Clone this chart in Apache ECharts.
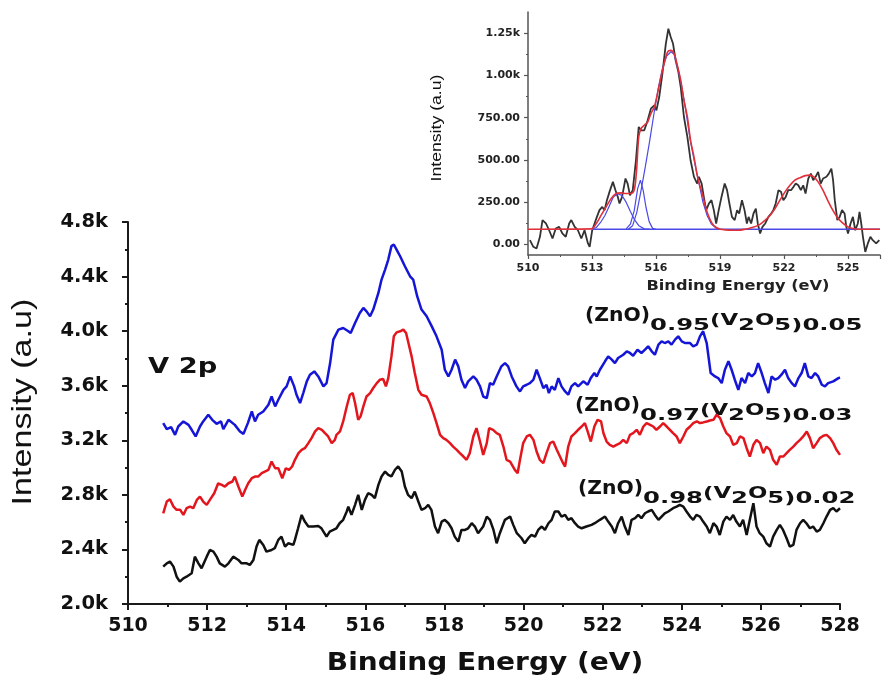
<!DOCTYPE html>
<html><head><meta charset="utf-8">
<script src="https://cdn.jsdelivr.net/npm/echarts@6/dist/echarts.min.js"></script>
<style>html,body{margin:0;padding:0;background:#fff}#c{width:883px;height:679px}</style>
</head><body><div id="c"></div>
<script>
// ---------- main panel data ----------
const blueE = [510.89,510.98,511.09,511.19,511.27,511.40,511.53,511.61,511.71,511.82,511.90,512.03,512.13,512.24,512.35,512.41,512.54,512.70,512.83,512.92,513.03,513.13,513.21,513.29,513.42,513.55,513.63,513.72,513.80,513.93,514.01,514.10,514.20,514.26,514.35,514.43,514.52,514.60,514.71,514.81,514.94,515.02,515.11,515.19,515.32,515.44,515.57,515.63,515.74,515.86,515.95,516.03,516.12,516.20,516.33,516.41,516.50,516.58,516.66,516.72,516.79,516.88,517.00,517.13,517.21,517.31,517.42,517.55,517.68,517.80,517.93,518.01,518.10,518.18,518.27,518.35,518.43,518.52,518.60,518.73,518.81,518.90,518.98,519.07,519.15,519.23,519.32,519.44,519.53,519.61,519.70,519.82,519.91,519.99,520.08,520.16,520.25,520.33,520.41,520.50,520.58,520.64,520.71,520.79,520.88,520.96,521.05,521.13,521.21,521.30,521.38,521.51,521.62,521.70,521.79,521.85,521.93,522.06,522.14,522.23,522.31,522.39,522.52,522.61,522.69,522.77,522.88,522.98,523.07,523.15,523.24,523.32,523.41,523.49,523.57,523.66,523.74,523.83,523.91,524.00,524.08,524.21,524.29,524.38,524.46,524.54,524.63,524.73,524.84,524.92,525.01,525.09,525.18,525.26,525.34,525.43,525.51,525.60,525.68,525.77,525.85,525.93,526.02,526.10,526.19,526.27,526.36,526.44,526.52,526.61,526.69,526.78,526.86,526.95,527.03,527.11,527.20,527.28,527.37,527.45,527.54,527.62,527.70,527.83,527.96,528.00];
const blueI = [3326,3282,3296,3240,3301,3338,3313,3277,3228,3301,3338,3387,3350,3321,3338,3282,3350,3313,3265,3247,3326,3411,3338,3387,3411,3460,3521,3448,3497,3570,3595,3668,3595,3534,3473,3546,3632,3681,3705,3668,3595,3619,3766,3938,4011,4023,3999,3986,4060,4133,4170,4145,4109,4158,4280,4378,4451,4525,4623,4635,4598,4549,4476,4402,4378,4256,4158,4109,4035,3962,3864,3717,3668,3717,3791,3742,3644,3583,3632,3668,3644,3595,3521,3509,3619,3607,3668,3742,3766,3742,3668,3595,3558,3595,3607,3619,3644,3717,3656,3583,3607,3546,3595,3570,3656,3595,3558,3534,3595,3619,3595,3632,3607,3656,3693,3668,3717,3779,3815,3791,3766,3803,3827,3852,3840,3820,3864,3840,3864,3889,3852,3827,3901,3925,3913,3925,3901,3938,3962,3925,3913,3913,3889,3901,3962,3999,3913,3693,3668,3656,3619,3717,3779,3717,3644,3570,3656,3619,3693,3668,3693,3766,3693,3619,3546,3668,3644,3656,3681,3717,3656,3619,3595,3656,3693,3766,3668,3656,3693,3668,3607,3595,3619,3632,3656,3660];

const redE = [510.89,510.98,511.06,511.15,511.23,511.32,511.40,511.48,511.57,511.65,511.74,511.82,511.90,511.99,512.07,512.18,512.28,512.37,512.45,512.54,512.64,512.70,512.79,512.89,512.96,513.04,513.13,513.21,513.29,513.38,513.46,513.55,513.63,513.72,513.80,513.90,513.99,514.07,514.15,514.22,514.31,514.39,514.47,514.56,514.64,514.73,514.81,514.90,514.98,515.06,515.15,515.23,515.27,515.36,515.44,515.53,515.61,515.68,515.74,515.82,515.88,515.95,516.03,516.12,516.20,516.29,516.37,516.45,516.52,516.58,516.66,516.72,516.79,516.88,516.96,517.03,517.09,517.17,517.25,517.34,517.42,517.55,517.63,517.72,517.80,517.89,517.97,518.05,518.14,518.22,518.31,518.39,518.48,518.56,518.64,518.73,518.81,518.90,518.98,519.07,519.13,519.23,519.32,519.40,519.49,519.57,519.66,519.70,519.78,519.85,519.91,519.99,520.08,520.16,520.25,520.33,520.41,520.50,520.58,520.67,520.75,520.84,520.92,521.00,521.05,521.13,521.21,521.30,521.38,521.47,521.55,521.62,521.70,521.79,521.87,521.96,522.02,522.10,522.18,522.27,522.35,522.44,522.52,522.61,522.69,522.77,522.86,522.94,523.03,523.11,523.20,523.28,523.36,523.45,523.53,523.62,523.70,523.78,523.87,523.95,524.04,524.12,524.21,524.29,524.38,524.46,524.54,524.63,524.71,524.80,524.88,524.97,525.05,525.13,525.22,525.30,525.39,525.47,525.56,525.64,525.72,525.81,525.89,525.98,526.06,526.14,526.23,526.31,526.40,526.48,526.57,526.65,526.73,526.82,526.90,526.99,527.07,527.16,527.24,527.32,527.41,527.49,527.58,527.66,527.75,527.83,527.91,528.00];
const redI = [2665,2751,2768,2714,2690,2690,2653,2702,2714,2702,2763,2787,2751,2726,2763,2812,2885,2873,2861,2885,2898,2934,2861,2787,2836,2885,2922,2934,2934,2959,2971,2983,3044,2995,2995,2922,2995,2983,3008,3057,3106,3130,3142,3179,3216,3265,3289,3277,3252,3228,3179,3203,3240,3265,3338,3448,3534,3546,3473,3350,3375,3448,3521,3546,3583,3619,3644,3649,3595,3656,3815,3962,3991,3999,4011,3986,3913,3815,3693,3570,3534,3521,3473,3399,3326,3240,3216,3203,3179,3154,3130,3106,3081,3057,3106,3228,3289,3191,3093,3179,3289,3277,3252,3240,3154,3057,3044,3032,2983,2959,3057,3179,3228,3240,3203,3118,3057,3032,3106,3179,3191,3130,3081,3032,3008,3154,3228,3252,3277,3301,3326,3265,3191,3301,3350,3338,3252,3191,3167,3154,3167,3179,3203,3179,3240,3252,3277,3240,3301,3326,3313,3301,3277,3301,3326,3301,3277,3252,3228,3179,3228,3277,3301,3326,3338,3326,3331,3338,3345,3350,3387,3362,3301,3252,3228,3167,3179,3228,3216,3142,3081,3167,3203,3179,3106,3154,3130,3057,3020,3081,3081,3106,3130,3154,3179,3203,3228,3265,3216,3142,3179,3216,3233,3240,3216,3179,3130,3093];

const blackE = [510.89,510.98,511.06,511.15,511.23,511.31,511.40,511.48,511.61,511.69,511.78,511.86,511.99,512.07,512.16,512.24,512.32,512.45,512.54,512.66,512.79,512.87,513.00,513.08,513.17,513.25,513.32,513.42,513.50,513.63,513.71,513.80,513.88,513.97,514.05,514.18,514.22,514.30,514.39,514.47,514.56,514.68,514.81,514.89,515.02,515.10,515.19,515.27,515.35,515.44,515.53,515.57,515.65,515.74,515.82,515.91,515.99,516.07,516.16,516.24,516.33,516.41,516.50,516.58,516.66,516.75,516.83,516.92,517.00,517.08,517.17,517.25,517.34,517.42,517.51,517.59,517.67,517.76,517.84,517.93,518.01,518.10,518.18,518.26,518.35,518.43,518.52,518.60,518.69,518.77,518.85,518.90,518.98,519.07,519.15,519.24,519.32,519.40,519.53,519.66,519.74,519.83,519.95,520.03,520.12,520.20,520.29,520.37,520.46,520.54,520.63,520.71,520.79,520.88,520.96,521.05,521.13,521.21,521.30,521.38,521.47,521.59,521.72,521.80,521.93,522.06,522.14,522.23,522.31,522.39,522.48,522.56,522.65,522.73,522.82,522.90,522.98,523.07,523.15,523.24,523.32,523.41,523.49,523.57,523.66,523.78,523.87,523.95,524.04,524.12,524.21,524.29,524.37,524.46,524.54,524.63,524.71,524.80,524.88,524.96,525.05,525.13,525.22,525.30,525.38,525.47,525.55,525.64,525.72,525.81,525.89,525.97,526.06,526.14,526.23,526.31,526.40,526.48,526.56,526.65,526.73,526.82,526.90,526.99,527.07,527.15,527.24,527.32,527.41,527.49,527.58,527.66,527.75,527.83,527.91,528.00];
const blackI = [2274,2298,2311,2274,2200,2164,2188,2200,2225,2347,2298,2262,2347,2396,2384,2347,2298,2274,2298,2347,2323,2298,2298,2286,2323,2421,2470,2433,2384,2396,2409,2470,2494,2421,2445,2433,2470,2555,2653,2604,2568,2568,2572,2555,2494,2531,2543,2555,2592,2617,2678,2714,2653,2727,2800,2690,2763,2812,2800,2776,2873,2935,2971,2947,2935,2984,3008,2971,2861,2800,2776,2824,2751,2690,2702,2727,2690,2568,2519,2604,2617,2592,2555,2494,2457,2543,2543,2555,2592,2568,2519,2506,2568,2641,2617,2543,2445,2519,2617,2641,2580,2519,2482,2445,2482,2506,2494,2543,2568,2543,2592,2617,2678,2678,2641,2653,2617,2629,2592,2568,2555,2568,2580,2592,2617,2641,2604,2568,2519,2592,2641,2568,2506,2617,2629,2653,2629,2665,2678,2690,2653,2617,2641,2665,2678,2702,2714,2727,2714,2678,2641,2617,2653,2641,2604,2568,2519,2592,2568,2506,2604,2641,2617,2653,2604,2568,2617,2506,2617,2739,2568,2519,2494,2445,2421,2494,2543,2580,2543,2482,2421,2433,2543,2592,2617,2592,2555,2568,2531,2543,2592,2641,2690,2702,2678,2702];

const mainXTicks = [510, 528, 2];
const mainYTicks = [2000, 4800, 400];

// ---------- inset data ----------
const insetE = [510.09,510.25,510.40,510.56,510.68,510.84,510.99,511.15,511.30,511.46,511.61,511.77,511.93,512.03,512.19,512.34,512.50,512.65,512.81,512.89,513.01,513.12,513.23,513.35,513.48,513.59,513.70,513.82,513.98,514.10,514.21,514.29,514.41,514.57,514.67,514.78,514.91,515.06,515.19,515.30,515.45,515.61,515.76,515.92,516.02,516.15,516.30,516.46,516.58,516.69,516.80,516.92,517.05,517.16,517.31,517.47,517.62,517.78,517.93,518.01,518.14,518.24,518.35,518.48,518.60,518.71,518.82,518.94,519.07,519.22,519.33,519.44,519.56,519.69,519.80,519.90,520.03,520.15,520.26,520.34,520.46,520.57,520.68,520.77,520.88,520.99,521.12,521.27,521.40,521.50,521.61,521.74,521.86,521.97,522.08,522.20,522.33,522.44,522.55,522.67,522.79,522.90,523.01,523.14,523.26,523.37,523.48,523.60,523.72,523.83,523.99,524.10,524.22,524.30,524.38,524.50,524.61,524.72,524.84,524.92,525.00,525.12,525.23,525.34,525.46,525.54,525.62,525.70,525.81,525.93,526.05,526.16,526.32,526.47];
const insetI = [25,-14,-24,45,144,124,84,35,94,104,65,45,124,144,104,84,35,84,6,-14,84,124,163,203,222,203,262,311,370,321,281,242,281,390,360,291,321,498,695,675,675,734,803,823,793,872,1010,1187,1276,1227,1187,1089,1020,931,754,636,498,400,360,400,360,281,203,242,262,203,124,203,281,360,321,242,163,144,203,183,262,203,124,163,124,183,212,124,65,104,124,163,183,203,242,321,311,262,281,321,321,340,360,350,321,350,301,390,419,380,400,429,360,390,400,419,449,380,262,144,163,203,183,104,65,124,163,84,124,193,124,45,-44,6,45,25,6,25];

const fitE = [510.0,512.97,513.20,513.43,513.66,513.90,514.13,514.36,514.60,514.83,514.98,515.09,515.19,515.30,515.45,515.61,515.76,515.92,516.07,516.23,516.38,516.54,516.69,516.85,517.00,517.16,517.31,517.47,517.62,517.78,517.93,518.05,518.17,518.32,518.48,518.63,518.82,519.02,519.25,519.56,519.87,520.18,520.50,520.81,521.12,521.35,521.58,521.81,522.05,522.28,522.51,522.75,523.00,523.20,523.40,523.60,523.83,524.07,524.30,524.53,524.77,525.00,525.23,525.46,526.50];
const fitI = [90,92,124,173,222,272,301,305,301,301,321,439,636,685,705,724,774,813,892,990,1069,1138,1148,1128,1059,971,852,754,616,518,410,350,300,222,163,124,100,90,86,84,84,90,100,114,144,173,212,262,311,350,380,395,407,410,400,370,320,255,200,155,124,104,94,90,90];

const peak1E = [513.0,513.2,513.4,513.6,513.8,514.0,514.2,514.4,514.6,514.8,515.0,515.2,515.45,515.7];
const peak1I = [90,100,130,170,225,280,300,290,250,195,145,110,92,90];
const peak2E = [514.6,514.8,514.98,515.14,515.27,515.40,515.53,515.68,515.84,516.0];
const peak2I = [92,120,200,330,380,320,220,135,95,90];
const peak3E = [514.7,514.9,515.1,515.3,515.5,515.7,515.9,516.1,516.3,516.5,516.7,516.85,517.0,517.2,517.4,517.6,517.8,518.0,518.2,518.4,518.6,518.8,519.0];
const peak3I = [90,110,190,320,460,610,770,920,1040,1115,1140,1125,1055,940,790,620,490,370,250,170,120,98,90];
const baseE = [513.0, 526.5];
const baseI = [90, 90];

const insetXTicks = [510, 526.5, 3];
const insetYLabels = [0, 250, 500, 750, 1000, 1250];
const insetYMinor = [125, 375, 625, 875, 1125];
const insetYRange = [-62.5, 1375];

// ---------- texts ----------
const labels = [
  {zno: '0.95', v: '0.05'},
  {zno: '0.97', v: '0.03'},
  {zno: '0.98', v: '0.02'}
];

const zip = (a, b) => a.map((x, i) => [x, b[i]]);
const F = 'DejaVu Sans';
const AX = '#1a1a1a';

const chart = echarts.init(document.getElementById('c'), null, {renderer: 'canvas'});

function subPart(l) {
  return '{s|' + l.zno + '}{u|(V}{s|2}{u|O}{s|5}{s|)' + l.v + '}';
}
const LH = 20.5;
const richStyle = {
  s: {fontSize: 16, fontWeight: 'bold', fontFamily: F, fill: '#111', verticalAlign: 'bottom', lineHeight: LH},
  u: {fontSize: 15, fontWeight: 'bold', fontFamily: F, fill: '#111', verticalAlign: 'top', lineHeight: LH}
};
// [x of "(ZnO)", x of subscript part, centre y of "(ZnO)"]
const labelPos = [[585, 650, 316], [575, 640, 406], [578, 643, 489]];

const labelGraphics = [];
labels.forEach((l, i) => {
  const p = labelPos[i];
  labelGraphics.push({type: 'text', x: p[0], y: p[2], scaleX: 1.07,
    style: {text: '(ZnO)', fontFamily: F, fontWeight: 'bold', fontSize: 19, fill: '#111',
      align: 'left', verticalAlign: 'middle'}});
  labelGraphics.push({type: 'text', x: p[1], y: p[2] - 2.5, scaleX: 1.52,
    style: {text: subPart(l), rich: richStyle, fontFamily: F, fontWeight: 'bold', fontSize: 16,
      fill: '#111', align: 'left', verticalAlign: 'top'}});
});

const option = {
  animation: false,
  backgroundColor: '#ffffff',
  grid: [
    {left: 128, top: 222, right: 43, bottom: 75},
    {left: 528, top: 12, right: 1, bottom: 424}
  ],
  xAxis: [
    {
      gridIndex: 0, type: 'value', min: mainXTicks[0], max: mainXTicks[1], interval: mainXTicks[2],
      axisLine: {show: true, onZero: false, lineStyle: {color: AX, width: 2}},
      axisTick: {show: true, length: 6, lineStyle: {color: AX, width: 2}},
      minorTick: {show: true, splitNumber: 2, length: 3, lineStyle: {color: AX, width: 2}},
      splitLine: {show: false},
      axisLabel: {fontFamily: F, fontWeight: 'bold', fontSize: 19, color: '#111', margin: 13}
    },
    {
      gridIndex: 1, type: 'value', min: insetXTicks[0], max: insetXTicks[1], interval: insetXTicks[2],
      axisLine: {show: true, onZero: false, lineStyle: {color: '#555', width: 1.5}},
      axisTick: {show: true, length: 4, lineStyle: {color: '#555', width: 1.2}},
      minorTick: {show: true, splitNumber: 2, length: 2, lineStyle: {color: '#555', width: 1}},
      splitLine: {show: false},
      axisLabel: {fontFamily: F, fontWeight: 'bold', fontSize: 11, color: '#222', margin: 8,
        formatter: v => (v % 3 === 0 ? String(v) : '')}
    }
  ],
  yAxis: [
    {
      gridIndex: 0, type: 'value', min: mainYTicks[0], max: mainYTicks[1], interval: mainYTicks[2],
      axisLine: {show: true, onZero: false, lineStyle: {color: AX, width: 2}},
      axisTick: {show: true, length: 6, lineStyle: {color: AX, width: 2}},
      minorTick: {show: true, splitNumber: 2, length: 3, lineStyle: {color: AX, width: 2}},
      splitLine: {show: false},
      axisLabel: {fontFamily: F, fontWeight: 'bold', fontSize: 19.5, color: '#111', margin: 20,
        formatter: v => (v / 1000).toFixed(1) + 'k'}
    },
    {
      gridIndex: 1, type: 'value', min: insetYRange[0], max: insetYRange[1], position: 'left',
      axisLine: {show: true, onZero: false, lineStyle: {color: '#555', width: 1.5}},
      axisTick: {show: true, length: 4, customValues: insetYLabels, lineStyle: {color: '#555', width: 1.2}},
      splitLine: {show: false},
      axisLabel: {fontFamily: F, fontWeight: 'bold', fontSize: 11, color: '#222', margin: 8,
        customValues: insetYLabels,
        formatter: v => (v >= 1000 ? (v / 1000).toFixed(2) + 'k' : v.toFixed(2))}
    },
    {
      gridIndex: 1, type: 'value', min: insetYRange[0], max: insetYRange[1], position: 'left', offset: 0,
      axisLine: {show: false},
      axisTick: {show: true, length: 2, customValues: insetYMinor, lineStyle: {color: '#555', width: 1}},
      axisLabel: {show: false},
      splitLine: {show: false}
    }
  ],
  series: [
    {type: 'line', xAxisIndex: 0, yAxisIndex: 0, data: zip(blackE, blackI), showSymbol: false,
      lineStyle: {color: '#111', width: 2.5}, z: 3},
    {type: 'line', xAxisIndex: 0, yAxisIndex: 0, data: zip(redE, redI), showSymbol: false,
      lineStyle: {color: '#e3161e', width: 2.5}, z: 3},
    {type: 'line', xAxisIndex: 0, yAxisIndex: 0, data: zip(blueE, blueI), showSymbol: false,
      lineStyle: {color: '#1515d8', width: 2.5}, z: 3},
    {type: 'line', xAxisIndex: 1, yAxisIndex: 1, data: zip(insetE, insetI), showSymbol: false,
      lineStyle: {color: '#333', width: 1.8}, z: 3},
    {type: 'line', xAxisIndex: 1, yAxisIndex: 1, data: zip(baseE, baseI), showSymbol: false,
      lineStyle: {color: '#4a4ae6', width: 1.4}, z: 4},
    {type: 'line', xAxisIndex: 1, yAxisIndex: 1, data: zip(peak1E, peak1I), showSymbol: false,
      lineStyle: {color: '#4a4ae6', width: 1.2}, z: 4},
    {type: 'line', xAxisIndex: 1, yAxisIndex: 1, data: zip(peak2E, peak2I), showSymbol: false,
      lineStyle: {color: '#4a4ae6', width: 1.2}, z: 4},
    {type: 'line', xAxisIndex: 1, yAxisIndex: 1, data: zip(peak3E, peak3I), showSymbol: false,
      lineStyle: {color: '#4a4ae6', width: 1.2}, z: 4},
    {type: 'line', xAxisIndex: 1, yAxisIndex: 1, data: zip(fitE, fitI), showSymbol: false, smooth: 0.3,
      lineStyle: {color: '#e0313a', width: 1.6}, z: 5}
  ],
  graphic: [
    {type: 'text', x: 23, y: 402, rotation: Math.PI / 2, scaleX: 1.22,
      style: {text: 'Intensity (a.u)', fontFamily: 'Liberation Sans', fontSize: 28, fill: '#111',
        align: 'center', verticalAlign: 'middle'}},
    {type: 'text', x: 485, y: 663, scaleX: 1.12,
      style: {text: 'Binding Energy (eV)', fontFamily: F, fontWeight: 'bold', fontSize: 25, fill: '#111',
        align: 'center', verticalAlign: 'middle'}},
    {type: 'text', x: 148, y: 368, scaleX: 1.3,
      style: {text: 'V 2p', fontFamily: F, fontWeight: 'bold', fontSize: 21, fill: '#111',
        align: 'left', verticalAlign: 'middle'}},
    {type: 'text', x: 437, y: 128, rotation: Math.PI / 2, scaleX: 1.26,
      style: {text: 'Intensity (a.u)', fontFamily: 'Liberation Sans', fontSize: 14, fill: '#111',
        align: 'center', verticalAlign: 'middle'}},
    {type: 'text', x: 738, y: 286, scaleX: 1.2,
      style: {text: 'Binding Energy (eV)', fontFamily: F, fontWeight: 'bold', fontSize: 13.5, fill: '#222',
        align: 'center', verticalAlign: 'middle'}}
  ].concat(labelGraphics)
};
chart.setOption(option);
</script>
</body></html>
